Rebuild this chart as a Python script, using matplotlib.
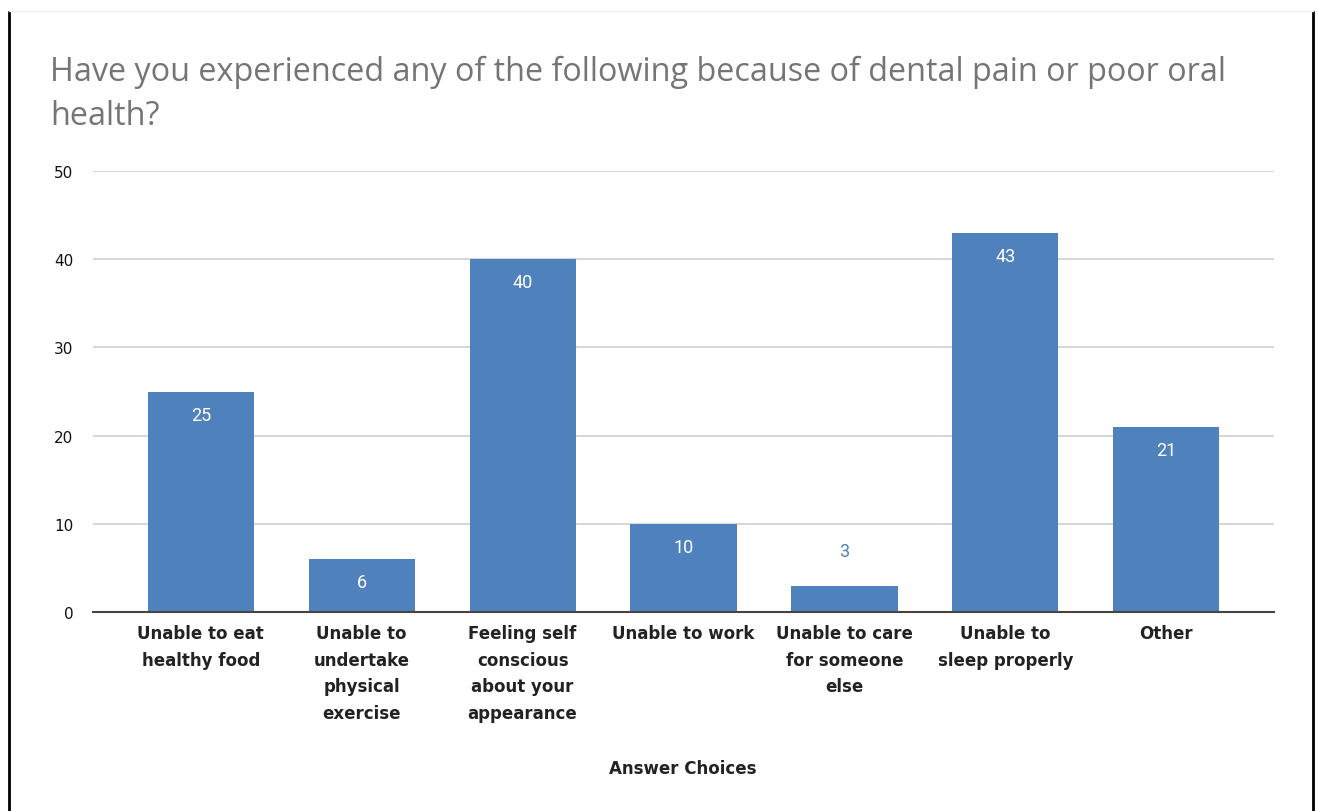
import matplotlib.pyplot as plt
from matplotlib.lines import Line2D
from matplotlib.font_manager import FontProperties

categories = ["Unable to eat\nhealthy food", "Unable to\nundertake\nphysical\nexercise",
              "Feeling self\nconscious\nabout your\nappearance", "Unable to work",
              "Unable to care\nfor someone\nelse", "Unable to\nsleep properly", "Other"]
values = [25, 6, 40, 10, 3, 43, 21]
yticks = [0, 10, 20, 30, 40, 50]

bar_color = '#4f81bd'
cat_font = FontProperties(family='DejaVu Sans', size=12, weight='bold')

fig = plt.figure(figsize=(13.17, 8.12), dpi=100)
ax = fig.add_axes([0.0706, 0.2451, 0.8968, 0.5429])

x = list(range(len(values)))
ax.bar(x, values, width=0.66, color=bar_color, zorder=3)

ax.set_xlim(-0.67, len(values) - 0.33)
ax.set_ylim(0, 50)
ax.set_yticks(yticks)
ax.set_yticklabels([str(t) for t in yticks], fontproperties=FontProperties(family='DejaVu Sans', size=11), color='#111111')
ax.yaxis.grid(True, color='#d0d0d0', linewidth=1.2, zorder=0)
ax.tick_params(axis='y', length=0, pad=14)
ax.tick_params(axis='x', length=0, pad=9)
ax.set_xticks(x)
ax.set_xticklabels(categories, fontproperties=cat_font, color='#222222', linespacing=1.6, va='top')

for s in ['top', 'right', 'left']:
    ax.spines[s].set_visible(False)
ax.spines['bottom'].set_color('#444444')
ax.spines['bottom'].set_linewidth(1.5)
ax.spines['bottom'].set_zorder(4)

for xi, v in zip(x, values):
    if v >= 5:
        ax.annotate(str(v), (xi, v), xytext=(0, -23), textcoords='offset pixels',
                    ha='center', va='center', color='white', fontsize=13, family='Roboto', zorder=5)
    else:
        ax.annotate(str(v), (xi, v), xytext=(0, 35), textcoords='offset pixels',
                    ha='center', va='center', color=bar_color, fontsize=13, family='Roboto', zorder=5)

fig.text(683 / 1317, 1 - 769 / 812, "Answer Choices", ha='center', va='center',
         fontproperties=cat_font, color='#222222')

fig.text(50 / 1317, 1 - 56 / 812,
         "Have you experienced any of the following because of dental pain or poor oral\nhealth?",
         ha='left', va='top', fontsize=23.3, color='#757575', family='Open Sans', linespacing=1.42)

# frame lines
fig.add_artist(Line2D([9 / 1317, 9 / 1317], [0, 1 - 13 / 812], transform=fig.transFigure, color='black', lw=2))
fig.add_artist(Line2D([1313 / 1317, 1313 / 1317], [0, 1 - 13 / 812], transform=fig.transFigure, color='black', lw=2))
fig.add_artist(Line2D([9 / 1317, 1313 / 1317], [1 - 12 / 812, 1 - 12 / 812], transform=fig.transFigure, color='#eeeeee', lw=1))

fig.savefig('out.png', dpi=100)
